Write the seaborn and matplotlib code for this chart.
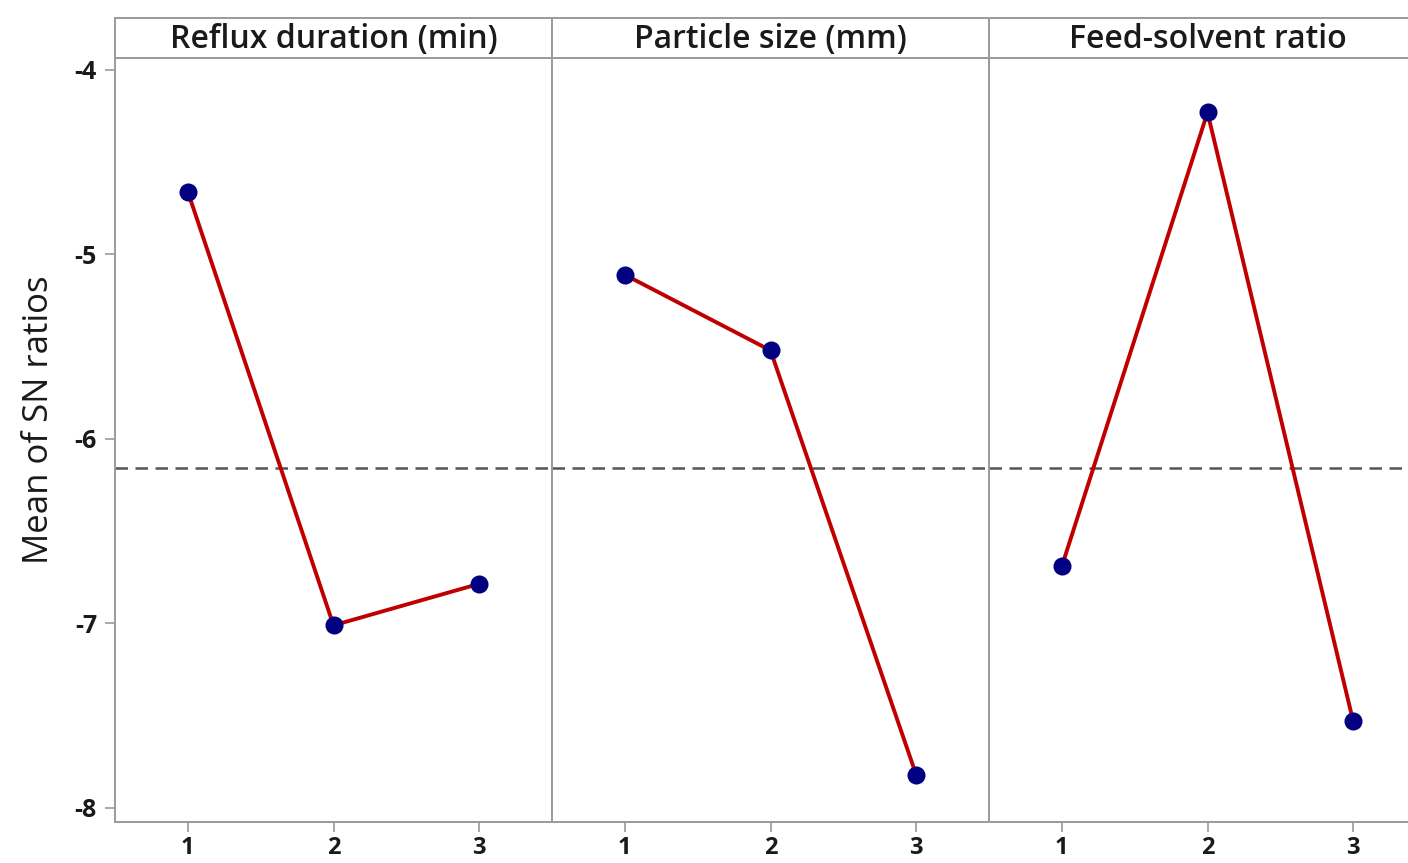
import matplotlib
matplotlib.use("Agg")
import matplotlib.pyplot as plt
import numpy as np
import pandas as pd
import seaborn as sns

# main effects plot for SN ratios
factors = ["Reflux duration (min)", "Particle size (mm)", "Feed-solvent ratio"]
levels = [1, 2, 3]
reflux_sn = [-4.66, -7.01, -6.785]
particle_sn = [-5.11, -5.52, -7.82]
feed_sn = [-6.69, -4.23, -7.53]
overall_mean = -6.157

df = pd.DataFrame({
    "factor": np.repeat(factors, len(levels)),
    "level": levels * len(factors),
    "sn": reflux_sn + particle_sn + feed_sn,
})

sns.set_style("white")
plt.rcParams["font.family"] = ["Open Sans", "DejaVu Sans"]

W, H = 1408, 863
fig = plt.figure(figsize=(W / 100, H / 100), dpi=100)

frame_col = "#9a9a9a"
left_px, panel_w = 115, 437
plot_top, plot_bot, head_top = 58, 822, 18

for i, fac in enumerate(factors):
    x0 = (left_px + i * panel_w) / W
    ax = fig.add_axes([x0, 1 - plot_bot / H, panel_w / W, (plot_bot - plot_top) / H])
    sub = df[df["factor"] == fac]
    sns.lineplot(data=sub, x="level", y="sn", ax=ax, color="#c00000", lw=2.8,
                 marker="o", markersize=13, markerfacecolor="#000080",
                 markeredgecolor="#000080", markeredgewidth=0)
    ax.axhline(overall_mean, color="#555555", lw=1.8, ls=(0, (5, 3)), zorder=0)
    ax.set_xlim(0.5, 3.5)
    ax.set_ylim(-8.076, -3.935)
    ax.set_xticks(levels)
    ax.set_xticklabels([str(l) for l in levels], fontsize=17, fontweight="bold")
    ax.set_yticks([-4, -5, -6, -7, -8])
    ax.set_xlabel("")
    ax.set_ylabel("")
    ax.tick_params(axis="both", length=7, width=1.2, color=frame_col, pad=6,
                   bottom=True, left=True, labelcolor="#1a1a1a")
    ax.tick_params(axis="x", pad=3)
    if i == 0:
        ax.set_yticklabels(["-4", "-5", "-6", "-7", "-8"], fontsize=18, fontweight="bold")
        ax.set_ylabel("Mean of SN ratios", fontsize=25, color="#1a1a1a")
        ax.yaxis.set_label_coords(-0.135, 0.526)
    else:
        ax.tick_params(axis="y", left=False, labelleft=False)
    for sp in ax.spines.values():
        sp.set_color(frame_col)
        sp.set_linewidth(1.4)

    # facet header strip
    hx = fig.add_axes([x0, 1 - plot_top / H, panel_w / W, (plot_top - head_top) / H])
    hx.set_xticks([])
    hx.set_yticks([])
    for sp in hx.spines.values():
        sp.set_color(frame_col)
        sp.set_linewidth(1.4)
    hx.text(0.5, 0.47, fac, ha="center", va="center", fontsize=23,
            fontweight="semibold", color="#1a1a1a", transform=hx.transAxes)

fig.savefig("out.png", dpi=100)
